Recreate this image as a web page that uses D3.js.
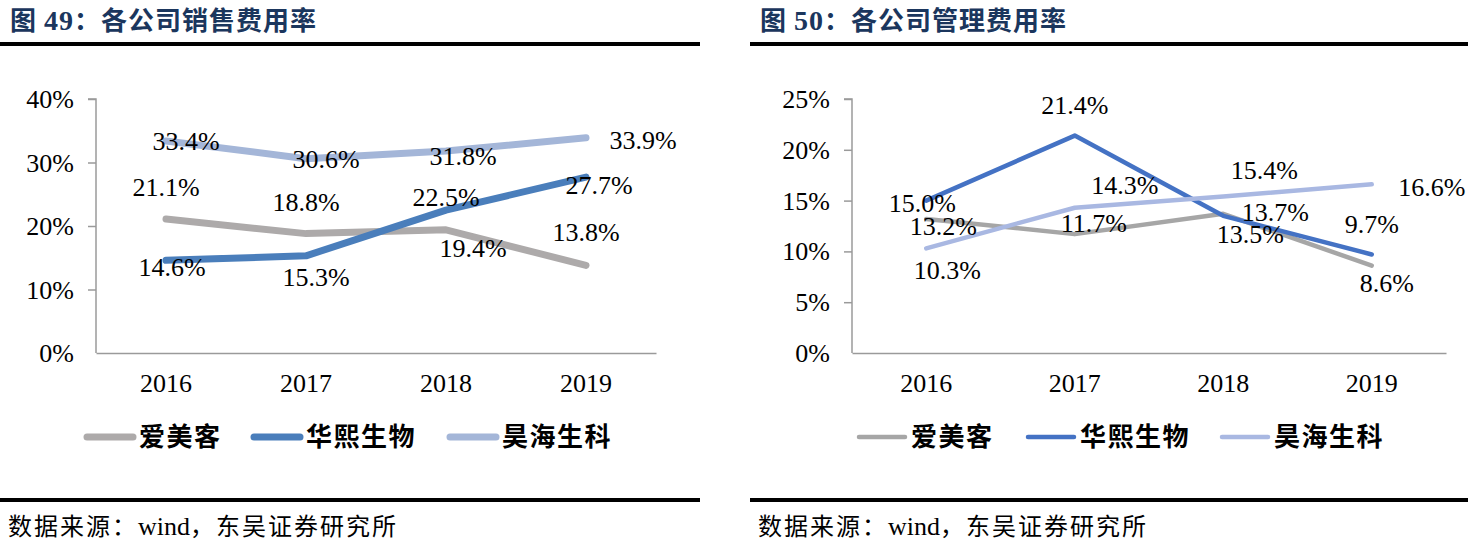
<!DOCTYPE html>
<html>
<head>
<meta charset="utf-8">
<script src="https://cdn.jsdelivr.net/npm/d3@7"></script>
<style>
  body { margin: 0; background: #fff; }
  svg { display: block; }
</style>
</head>
<body>
<svg id="chart" width="1468" height="541"></svg>
<script>
// categories and series
var years = ["2016", "2017", "2018", "2019"];
var seriesNames = ["爱美客", "华熙生物", "昊海生科"];

// 图49 销售费用率 (%)
var salesAimeike = [21.1, 18.8, 19.4, 13.8];
var salesHuaxi   = [14.6, 15.3, 22.5, 27.7];
var salesHaohai  = [33.4, 30.6, 31.8, 33.9];
var salesTicks   = [0, 10, 20, 30, 40];

// 图50 管理费用率 (%)
var adminAimeike = [13.2, 11.7, 13.7, 8.6];
var adminHuaxi   = [15.0, 21.4, 13.5, 9.7];
var adminHaohai  = [10.3, 14.3, 15.4, 16.6];
var adminTicks   = [0, 5, 10, 15, 20, 25];

// label nudges (px) per series / per point
var salesLabelOffsets = [
    [[0, -32], [0, -32], [27, 18], [0, -33]],
    [[6, 7], [10, 21], [0, -13], [13, 8]],
    [[20, 0], [20, 0], [17, 5], [57, 2]]
];
var adminLabelOffsets = [
    [[17, 7], [19, -11], [52, -2], [15, 17]],
    [[-4, 2], [0, -31], [27, 18], [0, -31]],
    [[21, 22], [50, -23], [41, -27], [60, 3]]
];

var svgContext = d3.select("#chart");
var cjk = "'Noto Sans CJK SC', sans-serif";
var serif = "'Liberation Serif', 'Times New Roman', serif";
var numSize = 26;

function drawPanel(opt) {
    var g = svgContext.append("g");

    // title
    var title = g.append("text")
        .attr("x", opt.left + 10)
        .attr("y", 30)
        .attr("fill", "#1b365d")
        .attr("font-weight", "bold")
        .attr("font-size", 26)
        .attr("letter-spacing", 1)
        .attr("font-family", cjk);
    title.append("tspan").text("图 ");
    title.append("tspan").attr("font-family", serif).attr("font-size", 28).text(opt.num);
    title.append("tspan").text("：" + opt.title);

    g.append("rect").attr("x", opt.left).attr("y", 42).attr("width", opt.width).attr("height", 4).attr("fill", "#000");
    g.append("rect").attr("x", opt.left).attr("y", 498).attr("width", opt.width).attr("height", 4).attr("fill", "#000");

    var src = g.append("text")
        .attr("x", opt.left + 8)
        .attr("y", 535)
        .attr("font-size", 24)
        .attr("letter-spacing", 2)
        .attr("font-family", cjk)
        .attr("fill", "#000");
    src.append("tspan").text("数据来源：");
    src.append("tspan").attr("font-family", serif).attr("font-size", 26).attr("letter-spacing", 0).text("wind");
    src.append("tspan").text("，东吴证券研究所");

    var x = d3.scaleBand().domain(years).range([opt.x0, opt.x1]);
    var y = d3.scaleLinear().domain([0, d3.max(opt.ticks)]).range([353, 99]);

    // y axis
    var yAxis = g.append("g")
        .attr("transform", "translate(" + opt.x0 + ",0)")
        .call(d3.axisLeft(y).tickValues(opt.ticks).tickSize(8).tickPadding(14)
            .tickFormat(function(d) { return d + "%"; }));
    yAxis.select(".domain").attr("stroke", "#9a9a9a").attr("stroke-width", 1.5).attr("d", "M-8,99H0V353");
    yAxis.selectAll(".tick line").attr("stroke", "#9a9a9a").attr("stroke-width", 1.5);
    yAxis.selectAll(".tick text").attr("font-family", serif).attr("font-size", numSize).attr("fill", "#000").attr("dy", "0.33em");
    yAxis.selectAll(".tick").filter(function(d) { return d === 0; }).select("line").remove();

    // x axis
    var xAxis = g.append("g")
        .attr("transform", "translate(0,353)")
        .call(d3.axisBottom(x).tickSize(0).tickPadding(21));
    xAxis.select(".domain").attr("stroke", "#9a9a9a").attr("stroke-width", 1.5);
    xAxis.selectAll(".tick text").attr("font-family", serif).attr("font-size", numSize).attr("fill", "#000");

    var cx = function(i) { return x(years[i]) + x.bandwidth() / 2; };
    var line = d3.line()
        .x(function(d, i) { return cx(i); })
        .y(function(d) { return y(d); });

    opt.series.forEach(function(vals, s) {
        g.append("path")
            .datum(vals)
            .attr("d", line)
            .attr("fill", "none")
            .attr("stroke", opt.colors[s])
            .attr("stroke-width", opt.lineWidth)
            .attr("stroke-linecap", "round")
            .attr("stroke-linejoin", "round");
    });

    opt.series.forEach(function(vals, s) {
        g.selectAll(null)
            .data(vals)
            .enter()
            .append("text")
            .attr("x", function(d, i) { return cx(i) + opt.offsets[s][i][0]; })
            .attr("y", function(d, i) { return y(d) + opt.offsets[s][i][1]; })
            .attr("dy", "0.35em")
            .attr("text-anchor", "middle")
            .attr("font-family", serif)
            .attr("font-size", numSize)
            .attr("fill", "#000")
            .text(function(d) { return d.toFixed(1) + "%"; });
    });

    // legend
    var lg = g.append("g");
    seriesNames.forEach(function(name, s) {
        var lx = opt.legendX[s];
        lg.append("line")
            .attr("x1", lx).attr("x2", lx + 46)
            .attr("y1", 437).attr("y2", 437)
            .attr("stroke", opt.colors[s])
            .attr("stroke-width", opt.legendWidth)
            .attr("stroke-linecap", "round");
        lg.append("text")
            .attr("x", lx + 52)
            .attr("y", 437)
            .attr("dy", "0.36em")
            .attr("font-family", cjk)
            .attr("font-weight", "bold")
            .attr("font-size", 26)
            .attr("letter-spacing", 1.5)
            .attr("fill", "#000")
            .text(name);
    });
}

drawPanel({
    left: 0, width: 700, num: "49", title: "各公司销售费用率",
    x0: 96, x1: 656, ticks: salesTicks,
    series: [salesAimeike, salesHuaxi, salesHaohai],
    offsets: salesLabelOffsets,
    colors: ["#adaaaa", "#4a7ebb", "#a4b6d8"],
    lineWidth: 7, legendWidth: 7,
    legendX: [87, 254, 450]
});

drawPanel({
    left: 750, width: 718, num: "50", title: "各公司管理费用率",
    x0: 852, x1: 1446, ticks: adminTicks,
    series: [adminAimeike, adminHuaxi, adminHaohai],
    offsets: adminLabelOffsets,
    colors: ["#a6a6a6", "#4472c4", "#a9b8e2"],
    lineWidth: 4.5, legendWidth: 4.5,
    legendX: [859, 1028, 1222]
});
</script>
</body>
</html>
